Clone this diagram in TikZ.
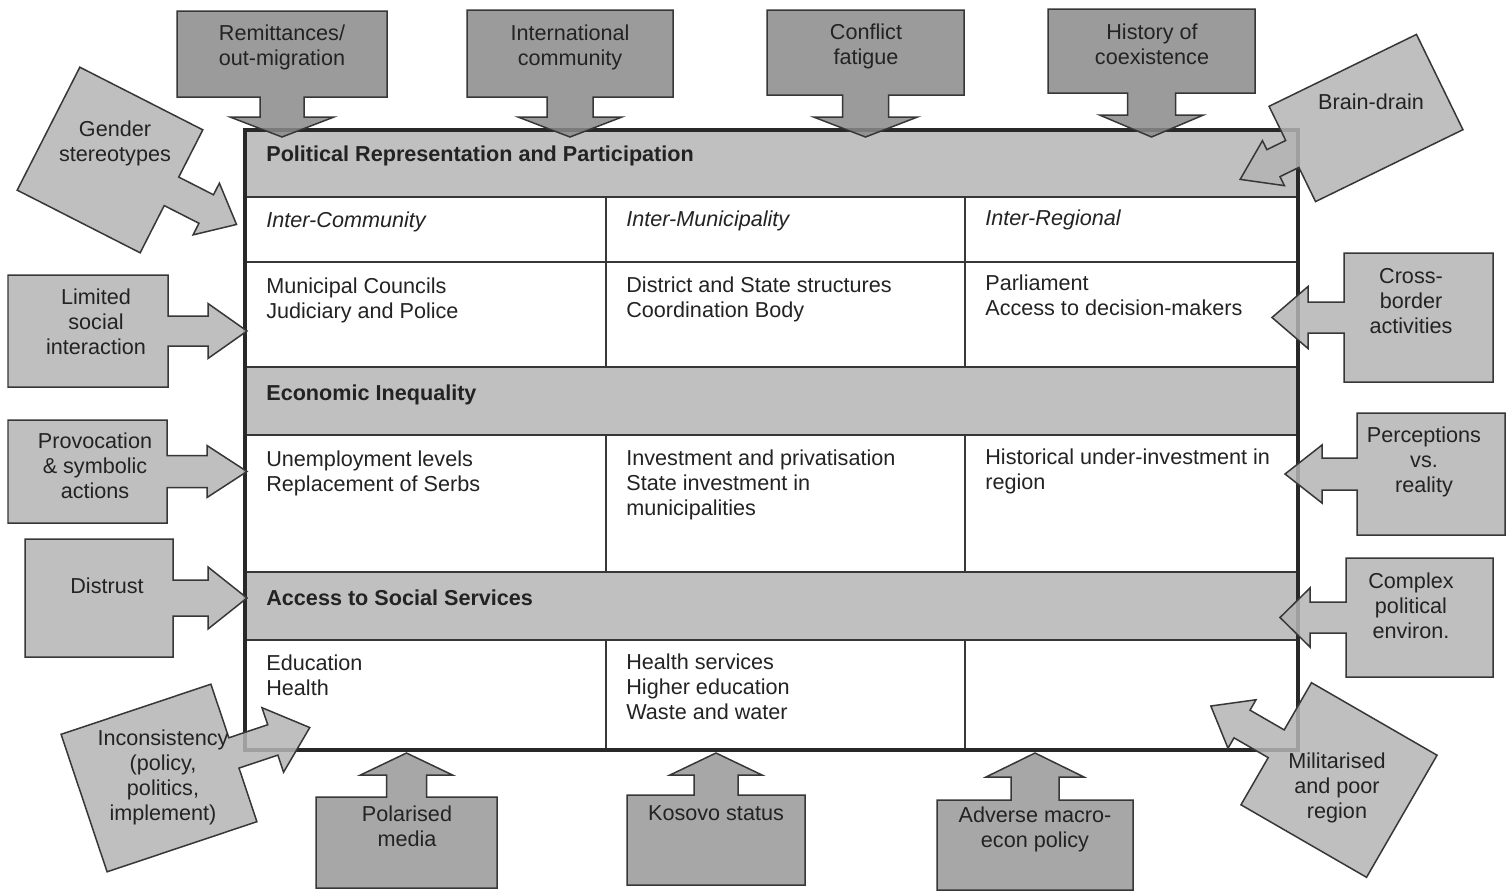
\documentclass[tikz,border=0pt]{standalone}
\usepackage{fontspec}
\setmainfont{Liberation Sans}
\definecolor{topgray}{RGB}{138,138,138}
\definecolor{sidegray}{RGB}{180,180,180}
\definecolor{botgray}{RGB}{152,152,152}
\definecolor{bandgray}{RGB}{192,192,192}
\definecolor{linegray}{RGB}{55,55,55}
\definecolor{framegray}{RGB}{40,40,40}
\definecolor{txtgray}{RGB}{35,35,35}
\newcommand{\mylbl}{\fontsize{12.3}{14.2}\selectfont}
\tikzset{
  pics/callout/.style n args={6}{code={
    \path[pic actions] (-#1,-#2) -- (#1,-#2) -- (#1,-#3) -- (#4,-#3) -- (#4,-#5)
      -- (#6,0) -- (#4,#5) -- (#4,#3) -- (#1,#3) -- (#1,#2) -- (-#1,#2) -- cycle;
  }},
  co/.style={draw=linegray, line width=0.03cm, fill opacity=0.85, line join=miter},
  lab/.style={align=center, font=\mylbl, text=txtgray, inner sep=0pt},
  cell/.style={anchor=north west, align=left, inner sep=0pt, font=\mylbl, text=txtgray},
  hdr/.style={cell, font=\mylbl\bfseries},
  band/.style={fill=bandgray, draw=none},
  rule/.style={draw=linegray, line width=0.04cm},
}
\begin{document}
\begin{tikzpicture}[x=0.02cm, y=-0.02cm]
\useasboundingbox (0,0) rectangle (1509,893);
\fill[white] (0,0) rectangle (1509,893);

% ---- table ----
\path[band] (245,130) rectangle (1298,197);
\path[band] (245,367) rectangle (1298,435);
\path[band] (245,572) rectangle (1298,640);
\foreach \yy in {197,262,367,435,572,640} \draw[rule] (245,\yy) -- (1298,\yy);
\draw[rule] (606,197) -- (606,367);
\draw[rule] (965,197) -- (965,367);
\draw[rule] (606,435) -- (606,572);
\draw[rule] (965,435) -- (965,572);
\draw[rule] (606,640) -- (606,750);
\draw[rule] (965,640) -- (965,750);
\draw[draw=framegray, line width=0.08cm] (245,130) rectangle (1298,750);

\node[hdr] (h1) at (266,143.5) {\strut Political Representation and Participation};
\node[cell] (ic) at (266,209.5) {\strut\itshape Inter-Community};
\node[cell] (im) at (626,208.5) {\strut\itshape Inter-Municipality};
\node[cell] (ir) at (985,207.5) {\strut\itshape Inter-Regional};
\node[cell] (c11) at (266,275.5) {\strut Municipal Councils\\Judiciary and Police};
\node[cell] (c12) at (626,274.5) {\strut District and State structures\\Coordination Body};
\node[cell] (c13) at (985,272.5) {\strut Parliament\\Access to decision-makers};
\node[hdr] (h2) at (266,382.5) {\strut Economic Inequality};
\node[cell] (c21) at (266,448.5) {\strut Unemployment levels\\Replacement of Serbs};
\node[cell] (c22) at (626,447.5) {\strut Investment and privatisation\\State investment in\\municipalities};
\node[cell] (c23) at (985,446.5) {\strut Historical under-investment in\\region};
\node[hdr] (h3) at (266,587.5) {\strut Access to Social Services};
\node[cell] (c31) at (266,652.5) {\strut Education\\Health};
\node[cell] (c32) at (626,651.5) {\strut Health services\\Higher education\\Waste and water};

% ---- top callouts (pointing down) ----
\pic[co, fill=topgray, rotate=-90] at (282,54) {callout={43}{105}{22}{63}{52}{83}};
\pic[co, fill=topgray, rotate=-90] at (570,53.5) {callout={43.5}{103}{23}{63.5}{52}{83.5}};
\pic[co, fill=topgray, rotate=-90] at (865.5,52.5) {callout={42.5}{98.5}{23}{64.5}{52}{84.5}};
\pic[co, fill=topgray, rotate=-90] at (1151.5,51) {callout={42}{103.5}{24}{64}{52}{86}};

% ---- bottom callouts (pointing up) ----
\pic[co, fill=botgray, rotate=90] at (406.5,842.5) {callout={45.5}{90.5}{20}{67.5}{46}{89.5}};
\pic[co, fill=botgray, rotate=90] at (716,840) {callout={45}{89}{22}{65}{46}{87}};
\pic[co, fill=botgray, rotate=90] at (1035,845) {callout={45}{98}{24}{68}{49}{92}};

% ---- left callouts (pointing right) ----
\pic[co, fill=sidegray] at (88,331) {callout={80}{56}{15}{120}{27.5}{159}};
\pic[co, fill=sidegray] at (87.5,471.5) {callout={79.5}{51.5}{16}{119.5}{26}{159.5}};
\pic[co, fill=sidegray] at (99,598) {callout={74}{59}{18}{109}{31}{148}};

% ---- right callouts (pointing left) ----
\pic[co, fill=sidegray, rotate=180] at (1418.5,317.5) {callout={74.5}{64.5}{15.5}{110.5}{31}{146.5}};
\pic[co, fill=sidegray, rotate=180] at (1431,474) {callout={74}{61}{16}{109}{29}{146}};
\pic[co, fill=sidegray, rotate=180] at (1419.5,617.5) {callout={73.5}{59.5}{15.5}{109.5}{29.5}{139.5}};

% ---- tilted callouts ----
\pic[co, fill=sidegray, rotate=-27] at (110,160) {callout={69}{69}{16}{108}{29}{142}};
\pic[co, fill=sidegray, rotate=-154] at (1366,118) {callout={82}{53}{15}{103}{25}{140}};
\pic[co, fill=sidegray, rotate=18.5] at (159,778) {callout={79}{72.5}{16}{120}{34}{159}};
\pic[co, fill=sidegray, rotate=150] at (1339,780) {callout={72.5}{70.5}{16}{112}{28}{148}};

% ---- callout labels ----
\node[lab] (remit) at (282,47) {Remittances/\\out-migration};
\node[lab] (intl) at (570,47) {International\\community};
\node[lab] (confl) at (866,46) {Conflict\\fatigue};
\node[lab] (hist) at (1152,44) {History of\\coexistence};
\node[lab] (brain) at (1371,102) {Brain-drain};
\node[lab] (gender) at (115,143) {Gender\\stereotypes};
\node[lab] (limit) at (96,322) {Limited\\social\\interaction};
\node[lab] (provo) at (95,466) {Provocation\\\& symbolic\\actions};
\node[lab] (distr) at (107,586) {Distrust};
\node[lab] (incon) at (163,777) {Inconsistency\\(policy,\\politics,\\implement)};
\node[lab] (polar) at (407,826) {Polarised\\media};
\node[lab] (kosovo) at (716,813) {Kosovo status};
\node[lab] (adverse) at (1035,829) {Adverse macro-\\econ policy};
\node[lab] (milit) at (1337,788) {Militarised\\and poor\\region};
\node[lab] (cross) at (1411,301) {Cross-\\border\\activities};
\node[lab] (percep) at (1424,462) {Perceptions\\vs.\\reality};
\node[lab] (complex) at (1411,606) {Complex\\political\\environ.};
\end{tikzpicture}
\end{document}
